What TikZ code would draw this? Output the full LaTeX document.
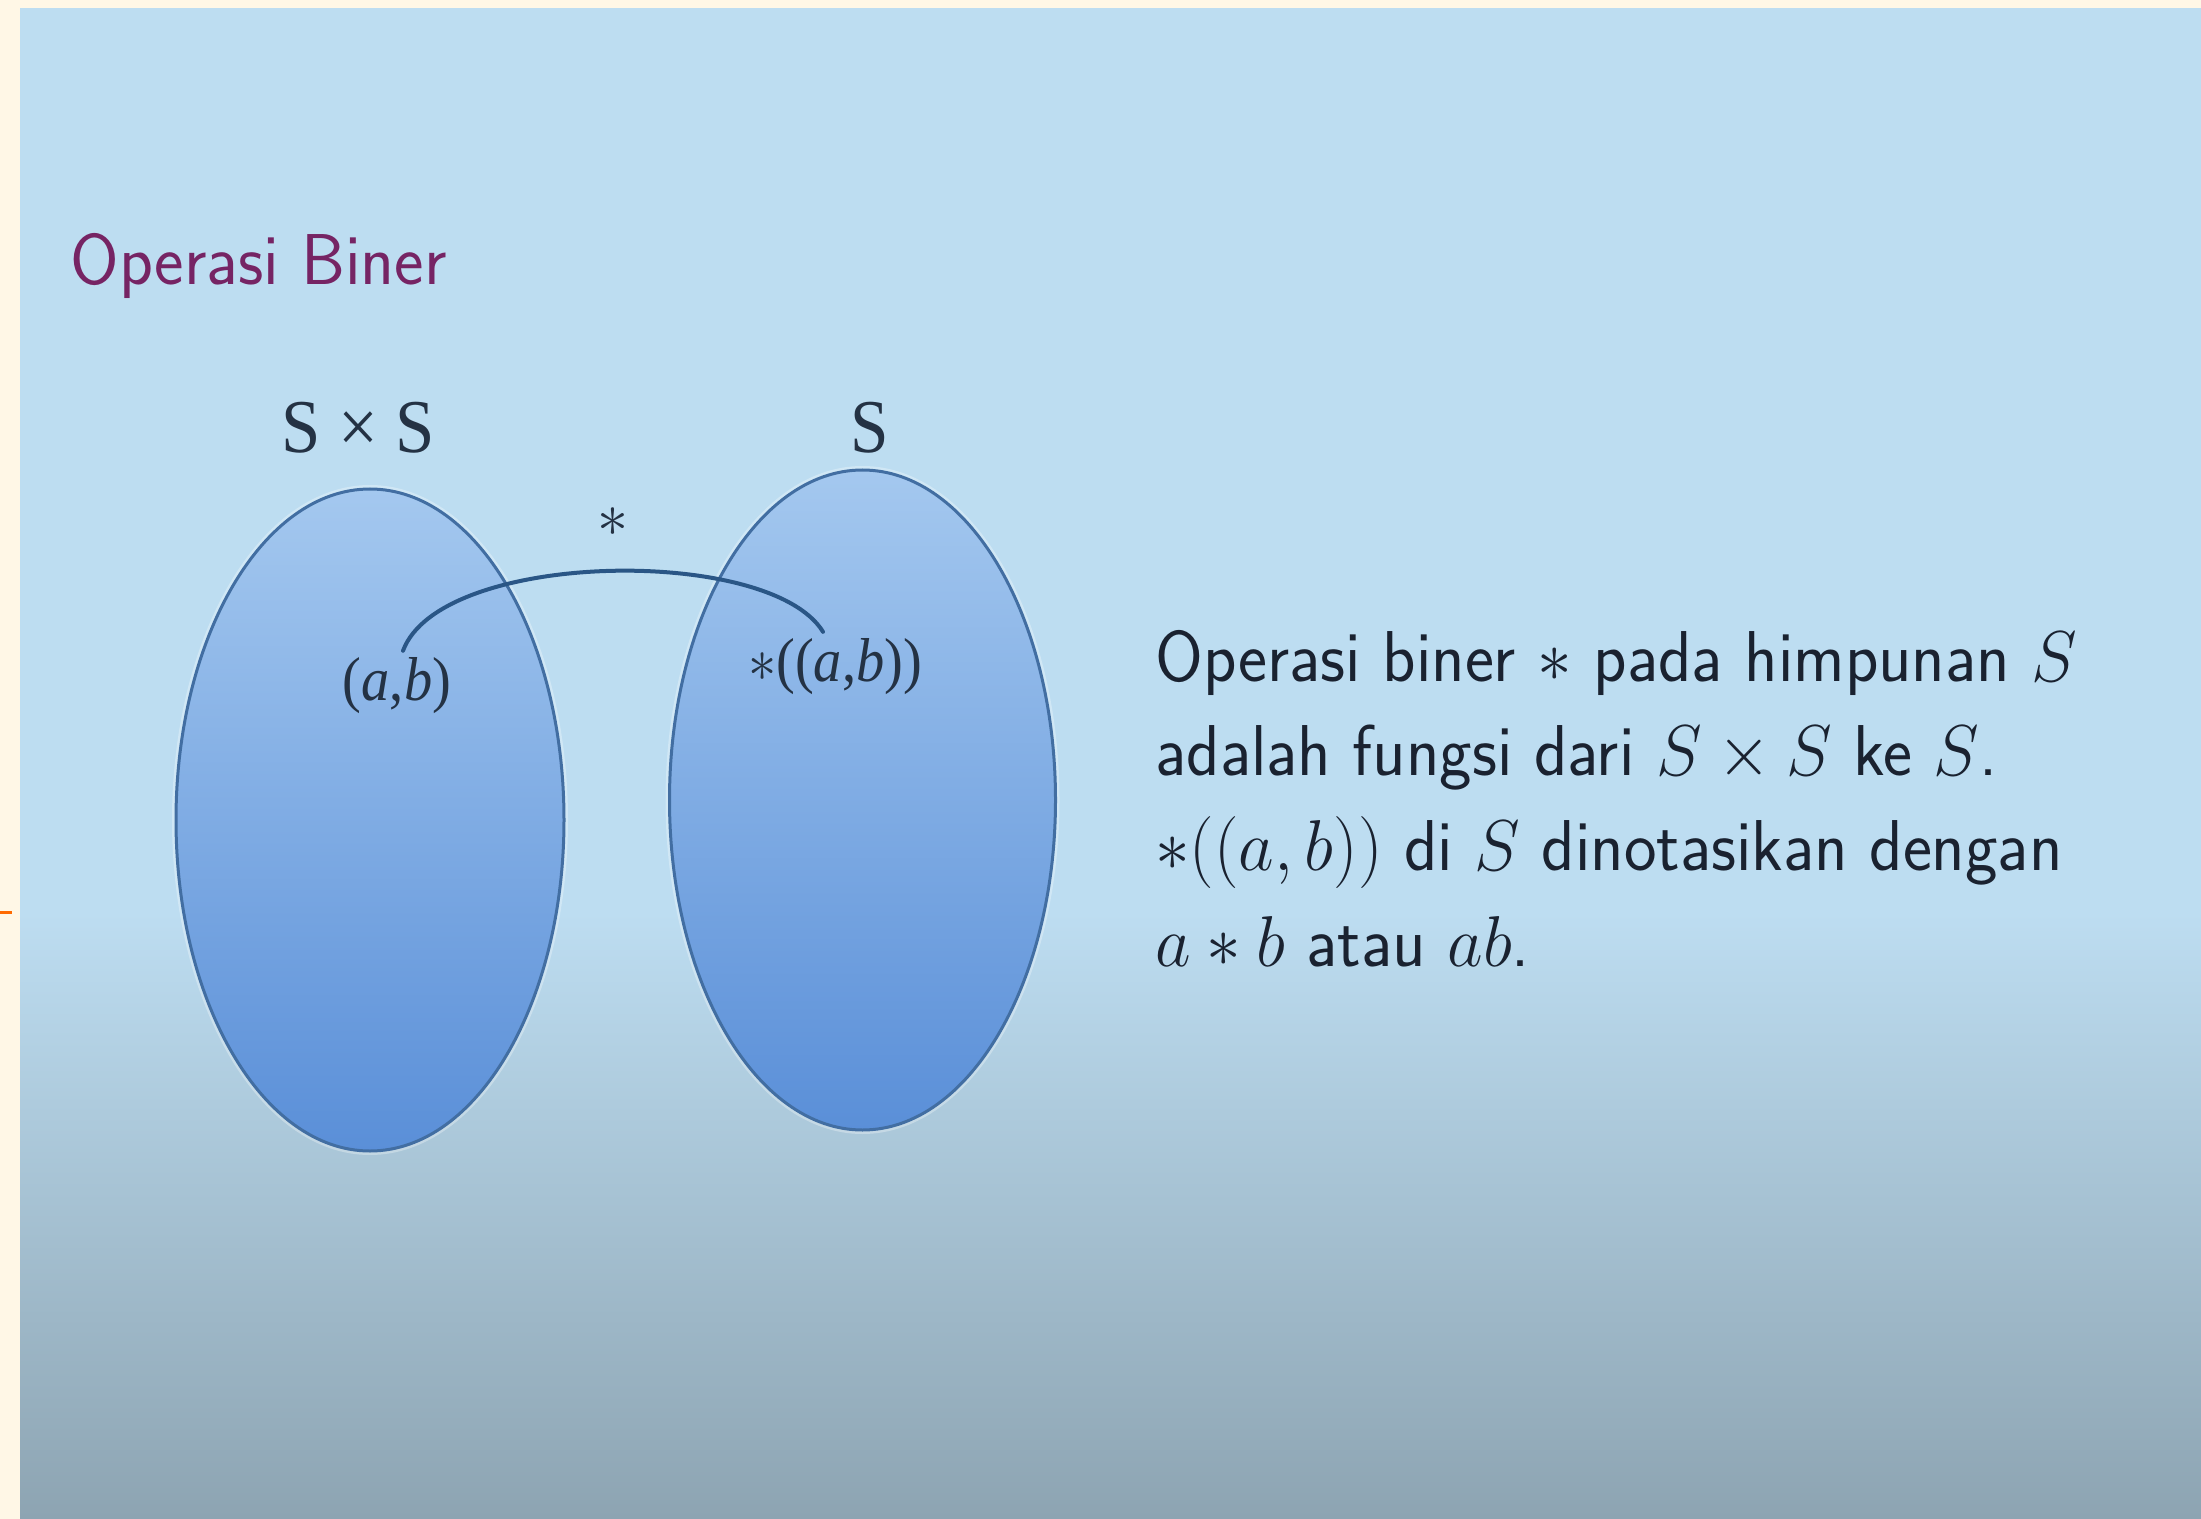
\documentclass[tikz,border=0pt]{standalone}
\usepackage{fix-cm}
\usepackage{fontspec}
\newfontfamily\labelfont{Liberation Serif}
\usetikzlibrary{shapes.geometric}
\definecolor{cream}{RGB}{255,247,230}
\definecolor{bgtop}{RGB}{189,221,241}
\definecolor{bgmid}{RGB}{170,198,216}
\definecolor{bgbot}{RGB}{141,164,178}
\definecolor{settop}{RGB}{164,200,239}
\definecolor{setbot}{RGB}{90,143,216}
\definecolor{setline}{RGB}{66,110,162}
\definecolor{titlecol}{RGB}{118,36,100}
\definecolor{textcol}{RGB}{26,34,48}
\definecolor{labcol}{RGB}{36,50,68}
\definecolor{arrowcol}{RGB}{42,86,134}
\definecolor{tickcol}{RGB}{255,106,0}
\tikzset{
  setnode/.style={ellipse, inner sep=0pt, draw=setline, line width=1.5pt,
    top color=settop, bottom color=setbot,
    preaction={draw=white, line width=4pt, opacity=0.3}},
  lab/.style={text=labcol, font=\labelfont\fontsize{38}{40}\selectfont},
  elem/.style={text=labcol, font=\labelfont\fontsize{31}{34}\selectfont},
  bodyline/.style={text=textcol, anchor=base west, inner sep=0pt,
    font=\sffamily\fontsize{36}{44}\selectfont},
  conn/.style={draw=arrowcol, line width=2pt, line cap=round}
}
\begin{document}
\begin{tikzpicture}[x=0.5pt,y=-0.5pt]
\useasboundingbox (0,0) rectangle (2201,1519);
% background
\fill[cream] (0,0) rectangle (2201,1519);
\fill[bgtop] (20,8) rectangle (2201,913);
\shade[top color=bgtop, middle color=bgmid, bottom color=bgbot] (20,912) rectangle (2201,1519);
\draw[tickcol, line width=1.5pt] (0,912) -- (12,912);
% title
\node[anchor=base west, inner sep=0pt, text=titlecol,
      font=\sffamily\fontsize{36}{44}\selectfont] (title) at (70,285)
      {\scalebox{0.975}[1]{Operasi Biner}};
% sets
\node[setnode, minimum width=194pt, minimum height=331pt] (setA) at (370,820) {};
\node[setnode, minimum width=193pt, minimum height=330pt] (setB) at (862.5,800) {};
% set labels
\node[lab, anchor=base] (lSxS) at (358,452) {\scalebox{0.93}[1]{S × S}};
\node[lab, anchor=base] (lS) at (870,452) {\scalebox{0.91}[1]{S}};
% elements
\node[elem] (ab) at (397,686) {\scalebox{0.91}[1]{(\textit{a},\textit{b})}};
\node[elem] (sab) at (835,667) {\scalebox{0.91}[1]{$\ast$((\textit{a},\textit{b}))}};
% mapping
\draw[conn] ([xshift=3pt]ab.north) .. controls (440,550) and (770,545) .. ([xshift=-6pt]sab.north);
\node[elem] (op) at (613,522) {$\ast$};
% description
\node[bodyline] (l1) at (1155,681) {\scalebox{0.96}[1]{Operasi biner $\ast$ pada himpunan $S$}};
\node[bodyline] (l2) at (1155,775) {\scalebox{0.96}[1]{adalah fungsi dari $S \times S$ ke $S$.}};
\node[bodyline] (l3) at (1155,870) {\scalebox{0.96}[1]{$\ast((a,b))$ di $S$ dinotasikan dengan}};
\node[bodyline] (l4) at (1155,966) {\scalebox{0.96}[1]{$a \ast b$ atau $ab$.}};
\end{tikzpicture}
\end{document}
